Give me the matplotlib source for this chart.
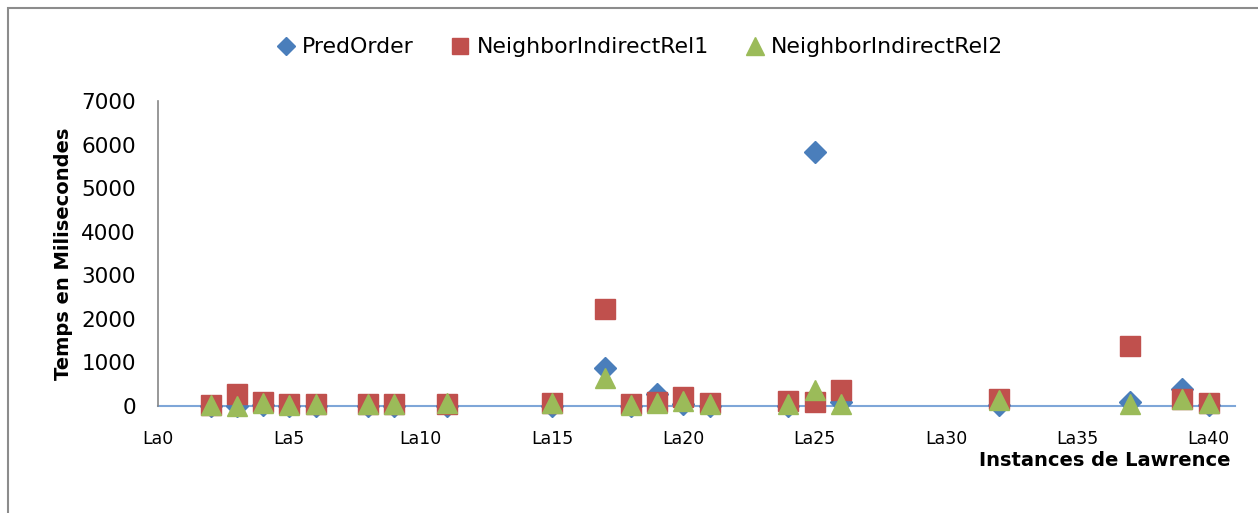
import matplotlib.pyplot as plt
from matplotlib.patches import Rectangle

plt.rcParams['font.family'] = ['DejaVu Sans']

# instance numbers (La2 ... La40)
instances = [2, 3, 4, 5, 6, 8, 9, 11, 15, 17, 18, 19, 20, 21, 24, 25, 26, 32, 37, 39, 40]

pred_order = [10, 10, 30, 10, 10, 10, 10, 10, 10, 880, 10, 280, 40, 10, 10, 5820, 100, 20, 90, 400, 30]
neighbor_rel1 = [30, 280, 100, 50, 50, 50, 50, 50, 60, 2220, 50, 100, 200, 60, 120, 90, 370, 150, 1370, 150, 80]
neighbor_rel2 = [20, 0, 80, 20, 50, 50, 50, 60, 60, 650, 30, 80, 110, 40, 40, 370, 40, 140, 40, 160, 60]

xticks = [0, 5, 10, 15, 20, 25, 30, 35, 40]
xtick_labels = ['La' + str(t) for t in xticks]

fig = plt.figure(figsize=(12.58, 5.13), dpi=100)
ax = fig.add_axes([0.1256, 0.2086, 0.8561, 0.5945])

ax.plot(instances, pred_order, linestyle='none', marker='D', markersize=11,
        color='#4a7ebb', label='PredOrder', clip_on=False)
ax.plot(instances, neighbor_rel1, linestyle='none', marker='s', markersize=14,
        color='#c0504d', label='NeighborIndirectRel1', clip_on=False)
ax.plot(instances, neighbor_rel2, linestyle='none', marker='^', markersize=15,
        color='#9bbb59', label='NeighborIndirectRel2', clip_on=False)

ax.set_xlim(0, 41)
ax.set_ylim(0, 7000)
ax.set_yticks(range(0, 7001, 1000))
ax.set_xticks(xticks)
ax.set_xticklabels(xtick_labels, fontsize=12.5)
ax.tick_params(axis='y', labelsize=15.5, length=0, pad=16)
ax.tick_params(axis='x', length=0, pad=17)

for s in ['top', 'right']:
    ax.spines[s].set_visible(False)
ax.spines['left'].set_color('#868686')
ax.spines['left'].set_linewidth(1.2)
ax.spines['bottom'].set_color('#7ea6d8')
ax.spines['bottom'].set_linewidth(1.5)
ax.spines['bottom'].set_zorder(0)

ax.set_ylabel('Temps en Milisecondes', fontsize=14, fontweight='bold', labelpad=6)
fig.text(0.978, 0.103, 'Instances de Lawrence', fontsize=14, fontweight='bold',
         ha='right', va='center')

ax.legend(loc='center', bbox_to_anchor=(0.508, 0.908), bbox_transform=fig.transFigure,
          ncol=3, frameon=False, fontsize=15.8, handlelength=1.0, handletextpad=0.25,
          columnspacing=1.6, markerscale=0.85)

fig.patches.append(Rectangle((8 / 1258, -0.1), 1.2, (513 - 8) / 513 + 0.1,
                             transform=fig.transFigure, fill=False,
                             edgecolor='#8c8c8c', linewidth=1.5))

fig.savefig('out.png', dpi=100)
